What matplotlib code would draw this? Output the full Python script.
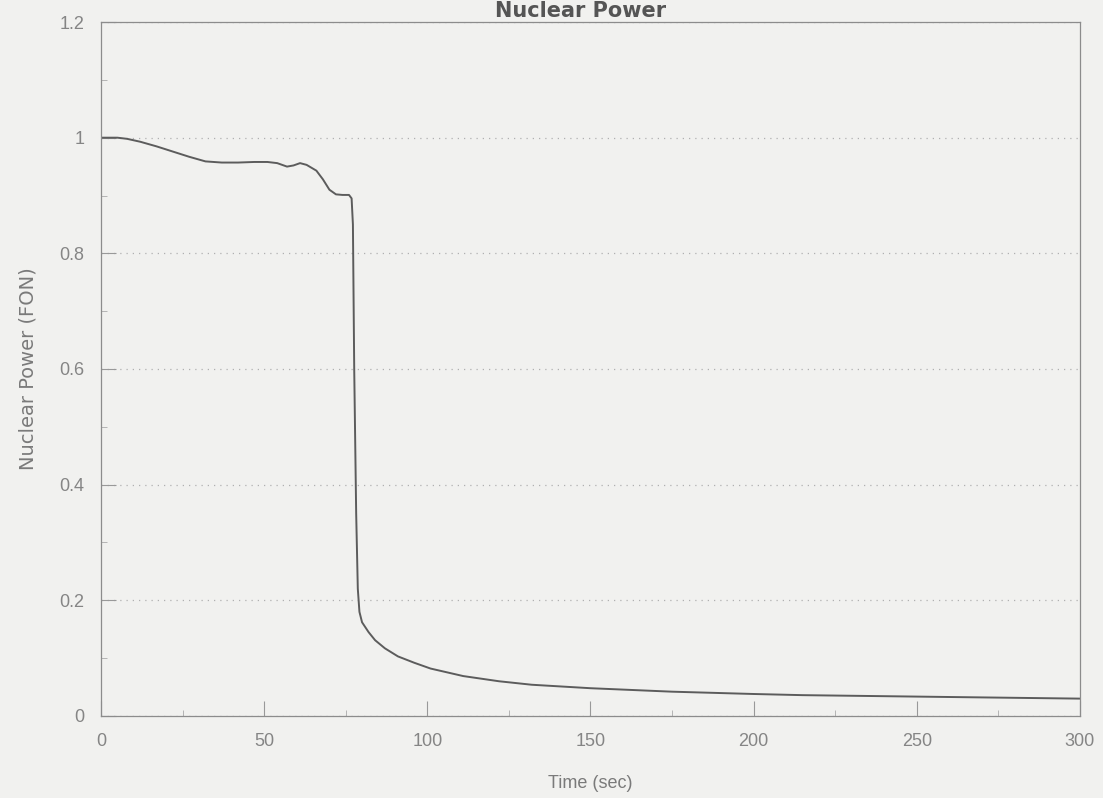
import numpy as np
import matplotlib.pyplot as plt
from matplotlib.ticker import MultipleLocator

# transient trace, read at irregular times
time_sec = [0, 5, 8, 12, 17, 22, 27, 32, 37, 42, 47, 51, 54, 57, 59, 61, 63,
            66, 68, 70, 72, 74, 76, 76.8, 77.2, 77.6, 78.2, 78.7, 79.2, 80,
            82, 84, 87, 91, 96, 101, 111, 122, 132, 150, 175, 200, 215, 257,
            300]
power_fon = [1.0, 1.0, 0.998, 0.993, 0.985, 0.976, 0.967, 0.959, 0.957,
             0.957, 0.958, 0.958, 0.956, 0.950, 0.952, 0.956, 0.953, 0.943,
             0.928, 0.910, 0.902, 0.901, 0.901, 0.895, 0.85, 0.60, 0.35,
             0.22, 0.18, 0.162, 0.145, 0.131, 0.117, 0.103, 0.092, 0.082,
             0.069, 0.060, 0.054, 0.048, 0.042, 0.038, 0.036, 0.033, 0.030]

x_ticks = [0, 50, 100, 150, 200, 250, 300]
y_ticks = [0, 0.2, 0.4, 0.6, 0.8, 1.0, 1.2]
y_ticklabels = ["0", "0.2", "0.4", "0.6", "0.8", "1", "1.2"]

BG = "#f1f1ef"
TEXT = "#7a7a7a"

plt.rcParams["font.family"] = ["Liberation Sans", "DejaVu Sans"]

fig = plt.figure(figsize=(11.03, 7.98), dpi=100, facecolor=BG)
ax = fig.add_axes([0.0916, 0.1028, 0.8874, 0.8696], facecolor=BG)

ax.plot(time_sec, power_fon, color="#5c5c5c", lw=1.4)

ax.set_xlim(0, 300)
ax.set_ylim(0, 1.2)
ax.set_xticks(x_ticks)
ax.set_yticks(y_ticks)
ax.set_yticklabels(y_ticklabels)
ax.xaxis.set_minor_locator(MultipleLocator(25))
ax.yaxis.set_minor_locator(MultipleLocator(0.1))
ax.tick_params(which="major", direction="in", length=11, width=0.8,
               color="#999999", labelsize=13, labelcolor="#858585", pad=12)
ax.tick_params(which="minor", direction="in", length=4, width=0.6,
               color="#aaaaaa")
ax.grid(axis="y", which="major", linestyle=(0, (1, 4)), color="#b0b0b0",
        lw=0.9)
for spine in ax.spines.values():
    spine.set_color("#8c8c8c")
    spine.set_linewidth(0.9)

ax.set_xlabel("Time (sec)", fontsize=13, color=TEXT, labelpad=18)
ax.set_ylabel("Nuclear Power (FON)", fontsize=14, color=TEXT, labelpad=16,
              family="DejaVu Sans")
fig.text(0.526, 0.999, "Nuclear Power", ha="center", va="top",
         fontsize=15, fontweight="bold", color="#555555",
         family="DejaVu Sans")

fig.savefig("out.png", dpi=100, facecolor=BG)
